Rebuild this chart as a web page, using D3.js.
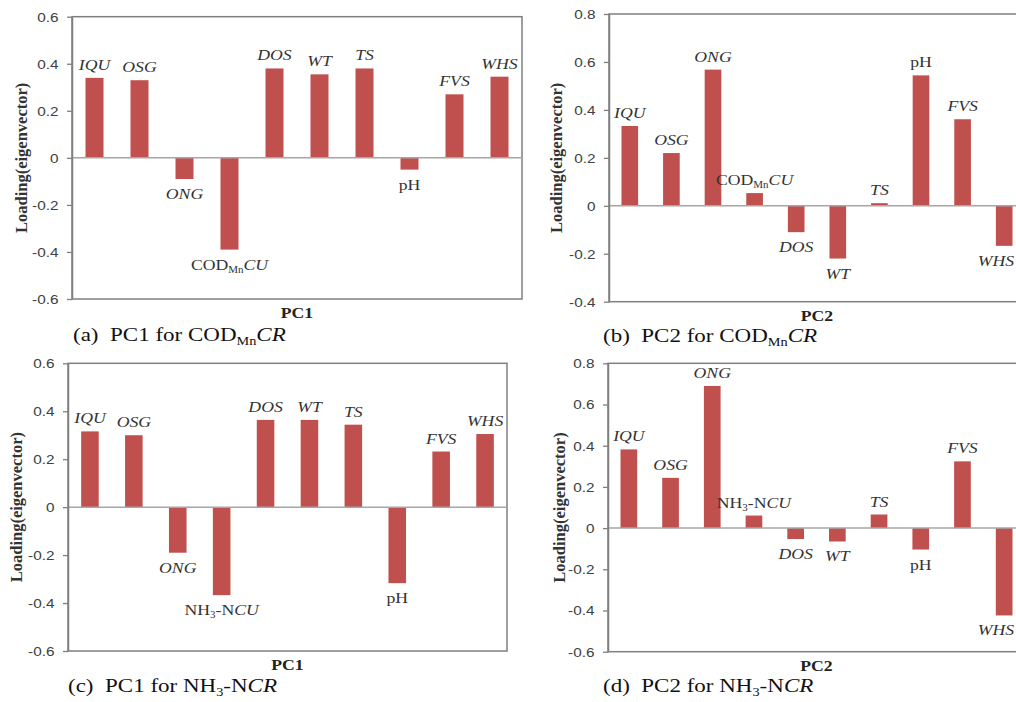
<!DOCTYPE html>
<html>
<head>
<meta charset="utf-8">
<script src="https://cdn.jsdelivr.net/npm/d3@7"></script>
<style>
  html, body { margin: 0; padding: 0; background: #fff; }
  svg { display: block; }
</style>
</head>
<body>
<svg id="chart" width="1016" height="702"></svg>
<script>
// ---------------- data ----------------
const categoriesCOD = ["IQU", "OSG", "ONG", "CODMnCU", "DOS", "WT", "TS", "pH", "FVS", "WHS"];
const categoriesNH3 = ["IQU", "OSG", "ONG", "NH3-NCU", "DOS", "WT", "TS", "pH", "FVS", "WHS"];

const pc1COD = [0.34, 0.33, -0.09, -0.39, 0.38, 0.355, 0.38, -0.05, 0.27, 0.345];
const pc2COD = [0.333, 0.22, 0.568, 0.053, -0.11, -0.22, 0.011, 0.544, 0.361, -0.167];
const pc1NH3 = [0.316, 0.30, -0.19, -0.367, 0.364, 0.364, 0.344, -0.317, 0.232, 0.305];
const pc2NH3 = [0.382, 0.244, 0.69, 0.061, -0.053, -0.065, 0.066, -0.104, 0.324, -0.424];

const ticksA = [-0.6, -0.4, -0.2, 0, 0.2, 0.4, 0.6];
const tickLabelsA = ["-0.6", "-0.4", "-0.2", "0", "0.2", "0.4", "0.6"];
const ticksB = [-0.4, -0.2, 0, 0.2, 0.4, 0.6, 0.8];
const tickLabelsB = ["-0.4", "-0.2", "0", "0.2", "0.4", "0.6", "0.8"];
const ticksD = [-0.6, -0.4, -0.2, 0, 0.2, 0.4, 0.6, 0.8];
const tickLabelsD = ["-0.6", "-0.4", "-0.2", "0", "0.2", "0.4", "0.6", "0.8"];

const axisTitles = ["PC1", "PC2", "PC1", "PC2"];
const captionLetters = ["(a)", "(b)", "(c)", "(d)"];
const captionTargets = ["CODMnCR", "CODMnCR", "NH3-NCR", "NH3-NCR"];
const yTitle = "Loading(eigenvector)";

// ---------------- layout ----------------
const panels = [
  { cats: categoriesCOD, vals: pc1COD, ticks: ticksA, tl: tickLabelsA,
    x0: 72, x1: 522, y0: 16.7, y1: 299, ylx: 21.5, capX: 73, capY: 341 },
  { cats: categoriesCOD, vals: pc2COD, ticks: ticksB, tl: tickLabelsB,
    x0: 609, x1: 1025, y0: 14, y1: 301.7, ylx: 557, capX: 603, capY: 342 },
  { cats: categoriesNH3, vals: pc1NH3, ticks: ticksA, tl: tickLabelsA,
    x0: 68, x1: 507, y0: 363.3, y1: 651, ylx: 17, capX: 68, capY: 692 },
  { cats: categoriesNH3, vals: pc2NH3, ticks: ticksD, tl: tickLabelsD,
    x0: 608, x1: 1025, y0: 363.3, y1: 651.7, ylx: 560, capX: 603, capY: 692 }
];

const W = 1016;
const SX = 1.18;            // horizontal stretch of the original figure's type
const BAR = "#C0504D";
const AXIS = "#7f7f7f";
const SERIF = "'Liberation Serif','Times New Roman',serif";
const SANS = "'Liberation Sans',Arial,sans-serif";

function segs(name) {
  if (name === "pH") return [{ t: "pH" }];
  if (name === "CODMnCU") return [{ t: "COD" }, { t: "Mn", sub: true }, { t: "CU", i: true }];
  if (name === "NH3-NCU") return [{ t: "NH" }, { t: "3", sub: true }, { t: "-N" }, { t: "CU", i: true }];
  if (name === "CODMnCR") return [{ t: "COD" }, { t: "Mn", sub: true }, { t: "CR", i: true }];
  if (name === "NH3-NCR") return [{ t: "NH" }, { t: "3", sub: true }, { t: "-N" }, { t: "CR", i: true }];
  return [{ t: name, i: true }];
}

function richText(parent, x, y, parts, size, anchor, color) {
  const g = parent.append("g").attr("transform", `translate(${x},${y}) scale(${SX},1)`);
  const t = g.append("text")
    .attr("text-anchor", anchor)
    .attr("font-family", SERIF)
    .attr("font-size", size)
    .attr("fill", color)
    .style("white-space", "pre");
  let shifted = false;
  parts.forEach(p => {
    const ts = t.append("tspan").text(p.t);
    if (p.i) ts.attr("font-style", "italic");
    if (p.sub) {
      ts.attr("font-size", size * 0.62).attr("dy", size * 0.22);
      shifted = true;
    } else if (shifted) {
      ts.attr("dy", -size * 0.22);
      shifted = false;
    }
  });
  // keep the text inside the picture
  if (anchor === "middle") {
    const w = t.node().getComputedTextLength() * SX;
    if (x + w / 2 > W - 2) {
      g.attr("transform", `translate(${W - 2 - w / 2},${y}) scale(${SX},1)`);
    }
  }
  return t;
}

const svg = d3.select("#chart");
svg.append("rect").attr("width", W).attr("height", 702).attr("fill", "#fff");

panels.forEach((P, k) => {
  const g = svg.append("g");
  const x = d3.scaleBand().domain(P.cats).range([P.x0, P.x1]).paddingInner(0.6).paddingOuter(0.3);
  const y = d3.scaleLinear().domain([P.ticks[0], P.ticks[P.ticks.length - 1]]).range([P.y1, P.y0]);

  // plot frame
  g.append("rect")
    .attr("x", P.x0).attr("y", P.y0)
    .attr("width", P.x1 - P.x0).attr("height", P.y1 - P.y0)
    .attr("fill", "none").attr("stroke", AXIS).attr("stroke-width", 1.5);

  // bars
  g.selectAll("rect.bar").data(P.vals).join("rect")
    .attr("class", "bar")
    .attr("x", (d, i) => x(P.cats[i]))
    .attr("width", x.bandwidth())
    .attr("y", d => y(Math.max(0, d)))
    .attr("height", d => Math.abs(y(d) - y(0)))
    .attr("fill", BAR);

  // zero line
  g.append("line")
    .attr("x1", P.x0).attr("x2", P.x1)
    .attr("y1", y(0)).attr("y2", y(0))
    .attr("stroke", "#a6a6a6").attr("stroke-width", 1.5);

  // left axis
  const ax = g.append("g").attr("transform", `translate(${P.x0},0)`)
    .call(d3.axisLeft(y).tickValues(P.ticks).tickSize(5).tickSizeOuter(0)
      .tickFormat((d, i) => P.tl[i]));
  ax.select(".domain").attr("stroke", AXIS).attr("stroke-width", 1.5);
  ax.selectAll(".tick line").attr("stroke", AXIS).attr("stroke-width", 1.3);
  ax.selectAll(".tick text")
    .attr("font-family", SANS).attr("font-size", 13).attr("fill", "#404040")
    .attr("x", 0).attr("dy", "0.34em")
    .attr("transform", `translate(-13.5,0) scale(${SX},1)`);

  // bar labels
  P.vals.forEach((v, i) => {
    const cx = x(P.cats[i]) + x.bandwidth() / 2;
    const ly = v >= 0 ? y(v) - 8 : y(v) + 20;
    richText(g, cx, ly, segs(P.cats[i]), 15, "middle", "#333");
  });

  // y title
  g.append("text")
    .attr("transform", `translate(${P.ylx + 5},${(P.y0 + P.y1) / 2}) rotate(-90)`)
    .attr("text-anchor", "middle")
    .attr("font-family", SERIF).attr("font-weight", "bold").attr("font-size", 16.5)
    .attr("fill", "#333")
    .text(yTitle);

  // x title
  const xt = g.append("g").attr("transform", `translate(${(P.x0 + Math.min(P.x1, 1025)) / 2},${P.y1 + 19}) scale(${SX},1)`);
  xt.append("text").attr("text-anchor", "middle")
    .attr("font-family", SERIF).attr("font-weight", "bold").attr("font-size", 15)
    .attr("fill", "#222").text(axisTitles[k]);

  // caption
  const capParts = [{ t: captionLetters[k] + "\u00a0\u00a0" + axisTitles[k] + " for " }].concat(segs(captionTargets[k]));
  richText(svg, P.capX, P.capY, capParts, 19.5, "start", "#111");
});
</script>
</body>
</html>
